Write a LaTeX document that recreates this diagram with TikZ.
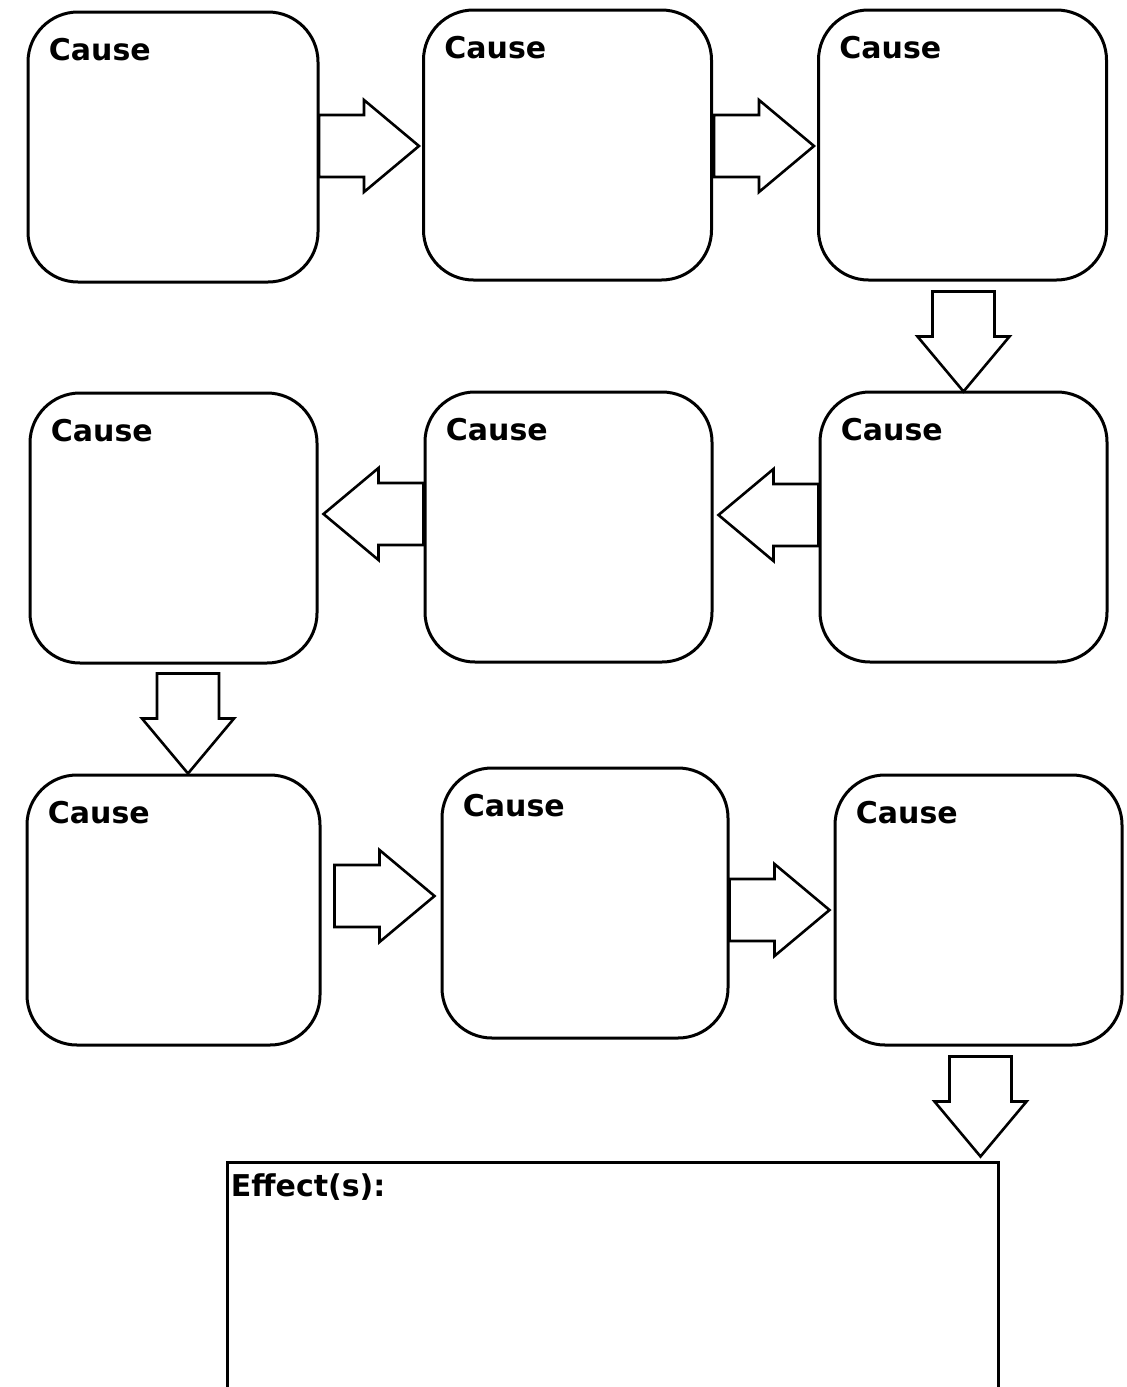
\documentclass[tikz,border=0pt]{standalone}
\usepackage{fontspec}
\setmainfont{DejaVu Sans}

\tikzset{
  causebox/.style={draw, line width=1.5pt, rounded corners=25pt, minimum width=144pt, minimum height=135pt, inner sep=0pt},
  causelabel/.style={anchor=base west, inner sep=0pt, font=\fontsize{15}{18}\selectfont\bfseries},
  effectbox/.style={draw, line width=1.5pt, minimum width=385.5pt, minimum height=150pt, inner sep=0pt},
  blockarrow/.pic={
    \draw[line width=1.3pt, line join=miter] (0,0) -- (-55,-46) -- (-55,-31) -- (-100,-31)
      -- (-100,31) -- (-55,31) -- (-55,46) -- cycle;
  }
}

\begin{document}
\begin{tikzpicture}[x=0.5pt, y=-0.5pt]
    \useasboundingbox (0,0) rectangle (1126,1387);
    \clip (0,0) rectangle (1126,1387);
    \fill[white] (0,0) rectangle (1126,1387);

    % first row
    \node [causebox, minimum width=145pt] (c1) at (173,147) {};
    \node [causebox] (c2) at (567.5,145) {};
    \node [causebox] (c3) at (962.5,145) {};
    \node [causelabel] at ([shift={(22,50)}]c1.north west) {Cause};
    \node [causelabel] at ([shift={(22,50)}]c2.north west) {Cause};
    \node [causelabel] at ([shift={(22,50)}]c3.north west) {Cause};
    \pic at ([shift={(-3,1)}]c2.west) {blockarrow};
    \pic at ([shift={(-3,1)}]c3.west) {blockarrow};

    % second row
    \node [causebox, minimum width=143.5pt] (c4) at (173.5,528) {};
    \node [causebox, minimum width=143.5pt] (c5) at (568.5,527) {};
    \node [causebox, minimum width=143.5pt] (c6) at (963.5,527) {};
    \node [causelabel] at ([shift={(22,50)}]c4.north west) {Cause};
    \node [causelabel] at ([shift={(22,50)}]c5.north west) {Cause};
    \node [causelabel] at ([shift={(22,50)}]c6.north west) {Cause};
    \pic [rotate=-90] at ([shift={(0,1)}]c6.north) {blockarrow};
    \pic [rotate=180] at ([shift={(5,-12)}]c5.east) {blockarrow};
    \pic [rotate=180] at ([shift={(5,-14)}]c4.east) {blockarrow};

    % third row
    \node [causebox, minimum width=146.5pt] (c7) at (173.5,910) {};
    \node [causebox, minimum width=143pt] (c8) at (585,903) {};
    \node [causebox, minimum width=143.5pt] (c9) at (978.5,910) {};
    \node [causelabel] at ([shift={(22,50)}]c7.north west) {Cause};
    \node [causelabel] at ([shift={(22,50)}]c8.north west) {Cause};
    \node [causelabel] at ([shift={(22,50)}]c9.north west) {Cause};
    \pic [rotate=-90] at ([shift={(14.5,0)}]c7.north) {blockarrow};
    \pic at ([shift={(-6,-7)}]c8.west) {blockarrow};
    \pic at ([shift={(-4,0)}]c9.west) {blockarrow};

    % effect
    \node [effectbox] (effect) at (612.5,1312) {};
    \node [causelabel] at ([shift={(5,36)}]effect.north west) {Effect(s):};
    \pic [rotate=-90] at ([shift={(-19,-4)}]effect.north east) {blockarrow};
\end{tikzpicture}
\end{document}
